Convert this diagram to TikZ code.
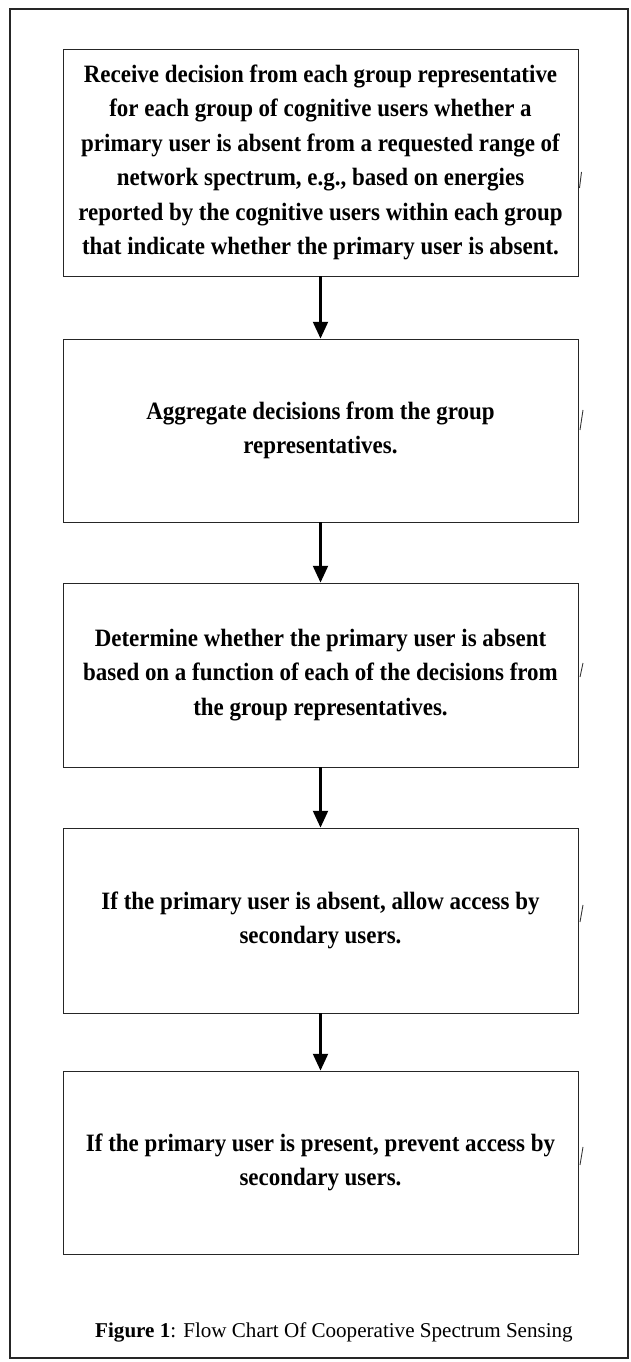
\documentclass[tikz,border=0pt]{standalone}
\usepackage{fontspec}
\setmainfont{Liberation Serif}
\newfontfamily\stepfont{Liberation Serif}[FakeStretch=0.92]
\usepackage{tikz}
\usetikzlibrary{arrows.meta}
\begin{document}
\begin{tikzpicture}[
  font=\fontsize{12}{14}\selectfont,
  stepbox/.style={rectangle, draw=black!85, line width=0.5pt, minimum width=10.30cm, align=center,
    font=\stepfont\bfseries\fontsize{14.2}{19.6}\selectfont},
  flow/.style={-{Triangle[length=9.5pt, width=8.5pt]}, line width=1.2pt},
  scanmark/.style={draw=black!80, line width=0.5pt}
]
  \useasboundingbox (0,0) rectangle (12.62,27.24);
  \draw[line width=0.9pt, draw=black!85] (0.20,0.08) rectangle (12.56,27.06);
  \node[stepbox, minimum height=4.54cm] (recv) at (6.41,23.99)
    {Receive decision from each group representative\\
     for each group of cognitive users whether a\\
     primary user is absent from a requested range of\\
     network spectrum, e.g., based on energies\\
     reported by the cognitive users within each group\\
     that indicate whether the primary user is absent.};
  \node[stepbox, minimum height=3.66cm] (aggr) at (6.41,18.63)
    {Aggregate decisions from the group\\ representatives.};
  \node[stepbox, minimum height=3.68cm] (judge) at (6.41,13.74)
    {Determine whether the primary user is absent\\
     based on a function of each of the decisions from\\
     the group representatives.};
  \node[stepbox, minimum height=3.70cm] (allow) at (6.41,8.83)
    {If the primary user is absent, allow access by\\ secondary users.};
  \node[stepbox, minimum height=3.66cm] (deny) at (6.41,3.99)
    {If the primary user is present, prevent access by\\ secondary users.};
  \draw[flow] (recv) -- (aggr);
  \draw[flow] (aggr) -- (judge);
  \draw[flow] (judge) -- (allow);
  \draw[flow] (allow) -- (deny);
  % small marks beside the boxes
  \draw[scanmark] (11.63,23.80) -- (11.59,23.48);
  \draw[scanmark] (11.66,19.04) -- (11.60,18.64);
  \draw[scanmark] (11.66,13.98) -- (11.60,13.70);
  \draw[scanmark] (11.66,9.14) -- (11.60,8.80);
  \draw[scanmark] (11.66,4.30) -- (11.60,3.94);
  \node (cap) at (6.68,0.60) {\textbf{Figure 1}: Flow Chart Of Cooperative Spectrum Sensing};
\end{tikzpicture}
\end{document}
